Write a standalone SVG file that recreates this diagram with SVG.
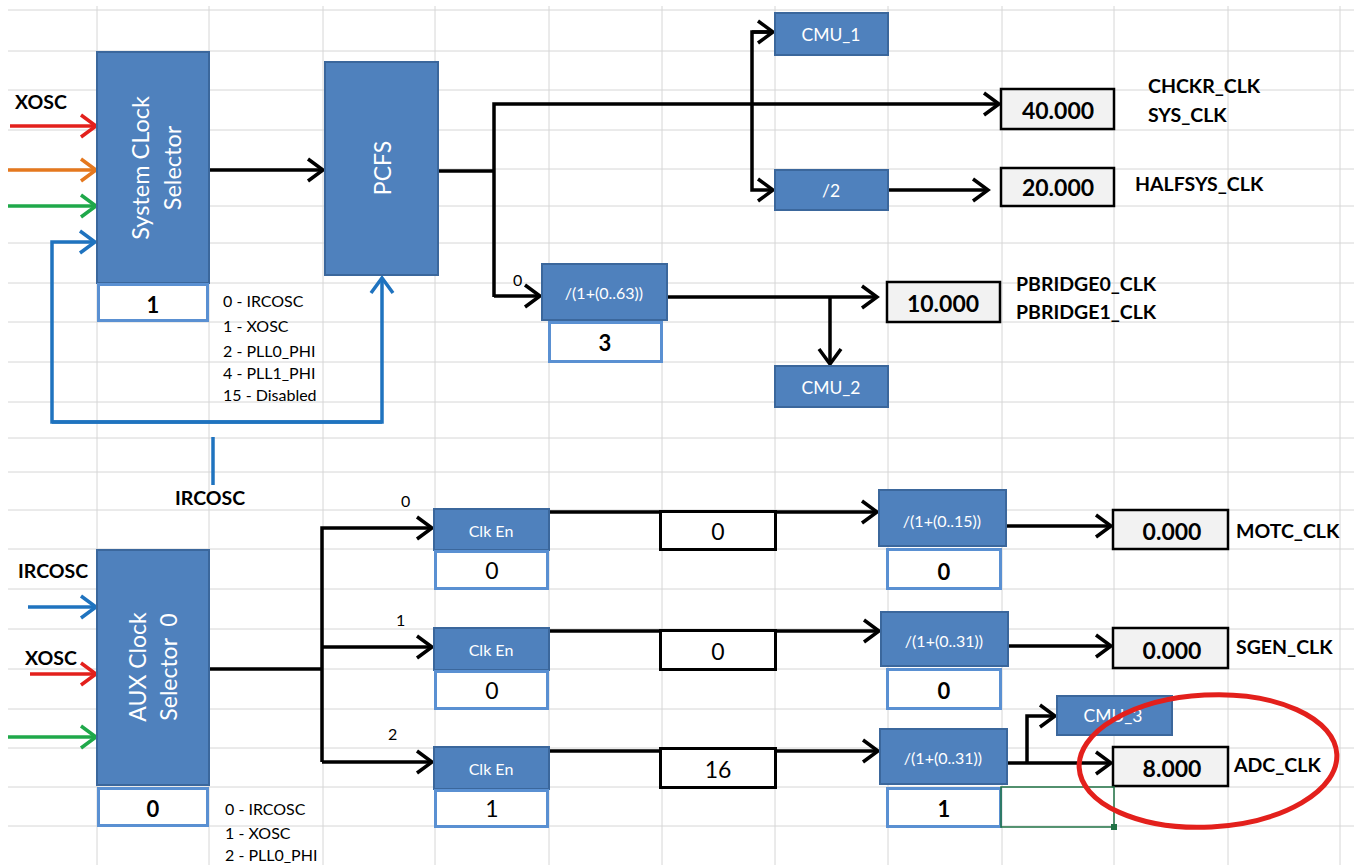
<svg xmlns="http://www.w3.org/2000/svg" width="1354" height="865" viewBox="0 0 1354 865">
<style>
text{font-family:Lato,"Open Sans","Liberation Sans",sans-serif}
.grid line{stroke:#d6d6d6;stroke-width:1}
.blk{fill:#4f81bd;stroke:#3b679c;stroke-width:2}
.val{fill:#ffffff;stroke:#5a90d2;stroke-width:3}
.out{fill:#f2f2f2;stroke:#000;stroke-width:2.5}
.mid{fill:#fff;stroke:#000;stroke-width:3}
.wt{fill:#fff;text-anchor:middle;dominant-baseline:central}
.bt{fill:#000;text-anchor:middle;dominant-baseline:central}
.lbl{fill:#000;font-weight:bold;font-size:19.5px;dominant-baseline:central}
.leg{fill:#000;font-size:16px;dominant-baseline:central}
.cn{fill:none;stroke:#000;stroke-width:3.5}
</style>
<defs>
<marker id="ak" markerUnits="userSpaceOnUse" markerWidth="20" markerHeight="26" viewBox="0 0 20 26" refX="17" refY="13" orient="auto"><path d="M2,2 L17,13 L2,24" fill="none" stroke="#000" stroke-width="3.5"/></marker>
<marker id="ar" markerUnits="userSpaceOnUse" markerWidth="20" markerHeight="26" viewBox="0 0 20 26" refX="17" refY="13" orient="auto"><path d="M2,2 L17,13 L2,24" fill="none" stroke="#e3201c" stroke-width="3.5"/></marker>
<marker id="ao" markerUnits="userSpaceOnUse" markerWidth="20" markerHeight="26" viewBox="0 0 20 26" refX="17" refY="13" orient="auto"><path d="M2,2 L17,13 L2,24" fill="none" stroke="#e5781e" stroke-width="3.5"/></marker>
<marker id="ag" markerUnits="userSpaceOnUse" markerWidth="20" markerHeight="26" viewBox="0 0 20 26" refX="17" refY="13" orient="auto"><path d="M2,2 L17,13 L2,24" fill="none" stroke="#1fa84a" stroke-width="3.5"/></marker>
<marker id="ab" markerUnits="userSpaceOnUse" markerWidth="20" markerHeight="26" viewBox="0 0 20 26" refX="17" refY="13" orient="auto"><path d="M2,2 L17,13 L2,24" fill="none" stroke="#1f73bf" stroke-width="3.5"/></marker>
</defs>
<rect width="1354" height="865" fill="#fff"/>
<g class="grid">
<line x1="8" y1="10" x2="1354" y2="10"/><line x1="8" y1="51" x2="1354" y2="51"/><line x1="8" y1="90" x2="1354" y2="90"/><line x1="8" y1="130" x2="1354" y2="130"/><line x1="8" y1="169" x2="1354" y2="169"/><line x1="8" y1="206" x2="1354" y2="206"/><line x1="8" y1="243" x2="1354" y2="243"/><line x1="8" y1="283" x2="1354" y2="283"/><line x1="8" y1="322" x2="1354" y2="322"/><line x1="8" y1="362" x2="1354" y2="362"/><line x1="8" y1="402" x2="1354" y2="402"/><line x1="8" y1="438" x2="1354" y2="438"/><line x1="8" y1="472" x2="1354" y2="472"/><line x1="8" y1="510" x2="1354" y2="510"/><line x1="8" y1="549" x2="1354" y2="549"/><line x1="8" y1="589" x2="1354" y2="589"/><line x1="8" y1="629" x2="1354" y2="629"/><line x1="8" y1="669" x2="1354" y2="669"/><line x1="8" y1="709" x2="1354" y2="709"/><line x1="8" y1="748" x2="1354" y2="748"/><line x1="8" y1="787" x2="1354" y2="787"/><line x1="8" y1="826" x2="1354" y2="826"/>
<line x1="97" y1="6" x2="97" y2="865"/><line x1="209" y1="6" x2="209" y2="865"/><line x1="323" y1="6" x2="323" y2="865"/><line x1="435" y1="6" x2="435" y2="865"/><line x1="549" y1="6" x2="549" y2="865"/><line x1="662" y1="6" x2="662" y2="865"/><line x1="775" y1="6" x2="775" y2="865"/><line x1="888" y1="6" x2="888" y2="865"/><line x1="1002" y1="6" x2="1002" y2="865"/><line x1="1114" y1="6" x2="1114" y2="865"/><line x1="1228" y1="6" x2="1228" y2="865"/><line x1="1340" y1="6" x2="1340" y2="865"/>
</g>

<g id="connectors">
<line x1="10" y1="126" x2="96" y2="126" stroke="#e3201c" stroke-width="3.5" marker-end="url(#ar)"/>
<line x1="8" y1="170" x2="96" y2="170" stroke="#e5781e" stroke-width="3.5" marker-end="url(#ao)"/>
<line x1="8" y1="206" x2="96" y2="206" stroke="#1fa84a" stroke-width="3.5" marker-end="url(#ag)"/>
<path d="M382,422 L52,422 L52,242 L95,242" fill="none" stroke="#1f73bf" stroke-width="3.5" marker-end="url(#ab)"/>
<path d="M52,422 L382,422 L382,278" fill="none" stroke="#1f73bf" stroke-width="3.5" marker-end="url(#ab)"/>
<line x1="213" y1="437" x2="213" y2="485" stroke="#1f73bf" stroke-width="3.5"/>
<line class="cn" x1="209" y1="170" x2="323" y2="170" marker-end="url(#ak)"/>
<line class="cn" x1="438" y1="171" x2="494" y2="171"/>
<path class="cn" d="M494,297 L494,104 L999,104" marker-end="url(#ak)"/>
<line class="cn" x1="494" y1="296" x2="540" y2="296" marker-end="url(#ak)"/>
<path class="cn" d="M773,32 L752,32 L752,190 L773,190" marker-end="url(#ak)"/>
<line class="cn" x1="752" y1="32" x2="773" y2="32" marker-end="url(#ak)"/>
<line class="cn" x1="888" y1="190" x2="988" y2="190" marker-end="url(#ak)"/>
<line class="cn" x1="667" y1="297" x2="877" y2="297" marker-end="url(#ak)"/>
<line class="cn" x1="830" y1="297" x2="830" y2="364" marker-end="url(#ak)"/>
<line class="cn" x1="209" y1="669" x2="322" y2="669"/>
<path class="cn" d="M322,762 L322,528 L432,528" marker-end="url(#ak)"/>
<line class="cn" x1="322" y1="647" x2="432" y2="647" marker-end="url(#ak)"/>
<line class="cn" x1="322" y1="762" x2="432" y2="762" marker-end="url(#ak)"/>
<line x1="28" y1="607" x2="96" y2="607" stroke="#1f73bf" stroke-width="3.5" marker-end="url(#ab)"/>
<line x1="30" y1="674" x2="96" y2="674" stroke="#e3201c" stroke-width="3.5" marker-end="url(#ar)"/>
<line x1="8" y1="737" x2="96" y2="737" stroke="#1fa84a" stroke-width="3.5" marker-end="url(#ag)"/>
<line class="cn" x1="549" y1="512" x2="877" y2="512" marker-end="url(#ak)"/>
<line class="cn" x1="549" y1="631" x2="879" y2="631" marker-end="url(#ak)"/>
<line class="cn" x1="549" y1="751" x2="878" y2="751" marker-end="url(#ak)"/>
<line class="cn" x1="1005" y1="526" x2="1111" y2="526" marker-end="url(#ak)"/>
<line class="cn" x1="1008" y1="646" x2="1111" y2="646" marker-end="url(#ak)"/>
<line class="cn" x1="1007" y1="763" x2="1111" y2="763" marker-end="url(#ak)"/>
<path class="cn" d="M1027,763 L1027,716 L1055,716" marker-end="url(#ak)"/>
</g>

<g id="inputs-top">
<text class="lbl" x="15" y="101">XOSC</text>
<text class="lbl" x="175" y="497">IRCOSC</text>
</g>
<g id="sys-selector">
<rect class="blk" x="97" y="52" width="112" height="231"/>
<text class="wt" font-size="23.5" transform="translate(140,168) rotate(-90)">System CLock</text>
<text class="wt" font-size="23.5" transform="translate(172,168) rotate(-90)">Selector</text>
</g>
<g id="sys-selector-val">
<rect class="val" x="98.5" y="284.5" width="109" height="36"/>
<text class="bt" font-size="22" font-weight="bold" x="153" y="304">1</text>
</g>
<g id="sys-legend">
<text class="leg" x="223" y="300">0 - IRCOSC</text>
<text class="leg" x="223" y="325">1 - XOSC</text>
<text class="leg" x="223" y="350">2 - PLL0_PHI</text>
<text class="leg" x="223" y="372">4 - PLL1_PHI</text>
<text class="leg" x="223" y="394">15 - Disabled</text>
</g>
<g id="pcfs">
<rect class="blk" x="325" y="62" width="113" height="213"/>
<text class="wt" font-size="23" transform="translate(382,168) rotate(-90)">PCFS</text>
</g>
<g id="cmu1">
<rect class="blk" x="775" y="13" width="113" height="42"/>
<text class="wt" font-size="17.5" x="831" y="34">CMU_1</text>
</g>
<g id="div2">
<rect class="blk" x="775" y="170" width="113" height="40"/>
<text class="wt" font-size="17.5" x="831" y="190">/2</text>
</g>
<g id="out-sys">
<rect class="out" x="1001" y="89" width="113" height="40"/>
<text class="bt" font-size="23" font-weight="bold" x="1058" y="110">40.000</text>
<text class="lbl" x="1148" y="85">CHCKR_CLK</text>
<text class="lbl" x="1148" y="114">SYS_CLK</text>
</g>
<g id="out-halfsys">
<rect class="out" x="1001" y="168" width="113" height="38"/>
<text class="bt" font-size="23" font-weight="bold" x="1058" y="187">20.000</text>
<text class="lbl" x="1135" y="183">HALFSYS_CLK</text>
</g>
<g id="div63">
<rect class="blk" x="542" y="264" width="125" height="56"/>
<text class="wt" font-size="16" x="604" y="292">/(1+(0..63))</text>
<text class="leg" font-size="14" x="513" y="279">0</text>
</g>
<g id="div63-val">
<rect class="val" x="549.5" y="322.5" width="112" height="39"/>
<text class="bt" font-size="22" font-weight="bold" x="605" y="342">3</text>
</g>
<g id="out-pbridge">
<rect class="out" x="887" y="282" width="113" height="40"/>
<text class="bt" font-size="23" font-weight="bold" x="943" y="303">10.000</text>
<text class="lbl" x="1016" y="283">PBRIDGE0_CLK</text>
<text class="lbl" x="1016" y="311">PBRIDGE1_CLK</text>
</g>
<g id="cmu2">
<rect class="blk" x="775" y="366" width="113" height="41"/>
<text class="wt" font-size="17.5" x="831" y="387">CMU_2</text>
</g>

<g id="inputs-bottom">
<text class="lbl" x="18" y="570">IRCOSC</text>
<text class="lbl" x="25" y="657">XOSC</text>
</g>
<g id="aux-selector">
<rect class="blk" x="97" y="550" width="112" height="235"/>
<text class="wt" font-size="23" transform="translate(137,667) rotate(-90)">AUX Clock</text>
<text class="wt" font-size="23" transform="translate(168,667) rotate(-90)" xml:space="preserve">Selector  0</text>
</g>
<g id="aux-selector-val">
<rect class="val" x="98.5" y="788.5" width="109" height="37"/>
<text class="bt" font-size="22" font-weight="bold" x="153" y="808">0</text>
</g>
<g id="aux-legend">
<text class="leg" x="225" y="808">0 - IRCOSC</text>
<text class="leg" x="225" y="832">1 - XOSC</text>
<text class="leg" x="225" y="854">2 - PLL0_PHI</text>
</g>
<g id="branch-labels">
<text class="leg" font-size="14" x="401" y="500">0</text>
<text class="leg" font-size="14" x="396" y="619">1</text>
<text class="leg" font-size="14" x="388" y="733">2</text>
</g>
<g id="clken0">
<rect class="blk" x="434" y="509" width="115" height="41"/>
<text class="wt" font-size="16" x="491" y="530">Clk En</text>
<rect class="val" x="435.5" y="551.5" width="112" height="37"/>
<text class="bt" font-size="23" x="492" y="570">0</text>
</g>
<g id="clken1">
<rect class="blk" x="434" y="628" width="115" height="42"/>
<text class="wt" font-size="16" x="491" y="649">Clk En</text>
<rect class="val" x="435.5" y="671.5" width="112" height="37"/>
<text class="bt" font-size="23" x="492" y="690">0</text>
</g>
<g id="clken2">
<rect class="blk" x="434" y="747" width="115" height="42"/>
<text class="wt" font-size="16" x="491" y="768">Clk En</text>
<rect class="val" x="435.5" y="790.5" width="112" height="36"/>
<text class="bt" font-size="23" x="492" y="808">1</text>
</g>
<g id="mid0">
<rect class="mid" x="660.5" y="511.5" width="115" height="38"/>
<text class="bt" font-size="23" x="718" y="531">0</text>
</g>
<g id="mid1">
<rect class="mid" x="660.5" y="630.5" width="115" height="39"/>
<text class="bt" font-size="23" x="718" y="651">0</text>
</g>
<g id="mid2">
<rect class="mid" x="660.5" y="748.5" width="115" height="39"/>
<text class="bt" font-size="23" x="718" y="769">16</text>
</g>
<g id="div15">
<rect class="blk" x="879" y="490" width="127" height="56"/>
<text class="wt" font-size="16" x="942" y="520">/(1+(0..15))</text>
<rect class="val" x="887.5" y="549.5" width="113" height="39"/>
<text class="bt" font-size="22" font-weight="bold" x="944" y="571">0</text>
</g>
<g id="div31a">
<rect class="blk" x="881" y="612" width="127" height="54"/>
<text class="wt" font-size="16" x="944" y="640">/(1+(0..31))</text>
<rect class="val" x="887.5" y="669.5" width="113" height="39"/>
<text class="bt" font-size="22" font-weight="bold" x="944" y="690">0</text>
</g>
<g id="div31b">
<rect class="blk" x="880" y="729" width="127" height="55"/>
<text class="wt" font-size="16" x="943" y="757">/(1+(0..31))</text>
<rect class="val" x="887.5" y="788.5" width="113" height="38"/>
<text class="bt" font-size="22" font-weight="bold" x="944" y="808">1</text>
</g>
<g id="out-motc">
<rect class="out" x="1113" y="510" width="115" height="39"/>
<text class="bt" font-size="23" font-weight="bold" x="1172" y="531">0.000</text>
<text class="lbl" x="1236" y="530">MOTC_CLK</text>
</g>
<g id="out-sgen">
<rect class="out" x="1113" y="628" width="115" height="40"/>
<text class="bt" font-size="23" font-weight="bold" x="1172" y="650">0.000</text>
<text class="lbl" x="1236" y="646">SGEN_CLK</text>
</g>
<g id="cmu3">
<rect class="blk" x="1057" y="696" width="115" height="39"/>
<text class="wt" font-size="17.5" x="1113" y="715">CMU_3</text>
</g>
<g id="out-adc">
<rect class="out" x="1113" y="747" width="115" height="39"/>
<text class="bt" font-size="23" font-weight="bold" x="1172" y="768">8.000</text>
<text class="lbl" x="1234" y="764">ADC_CLK</text>
</g>
<g id="selection">
<rect x="1001" y="787" width="113" height="40" fill="none" stroke="#217346" stroke-width="1.5"/>
<rect x="1111" y="824" width="6" height="6" fill="#217346"/>
</g>
<ellipse id="highlight" cx="1208" cy="761" rx="129" ry="66" transform="rotate(-3 1208 761)" fill="none" stroke="#e3201c" stroke-width="5"/>
</svg>
